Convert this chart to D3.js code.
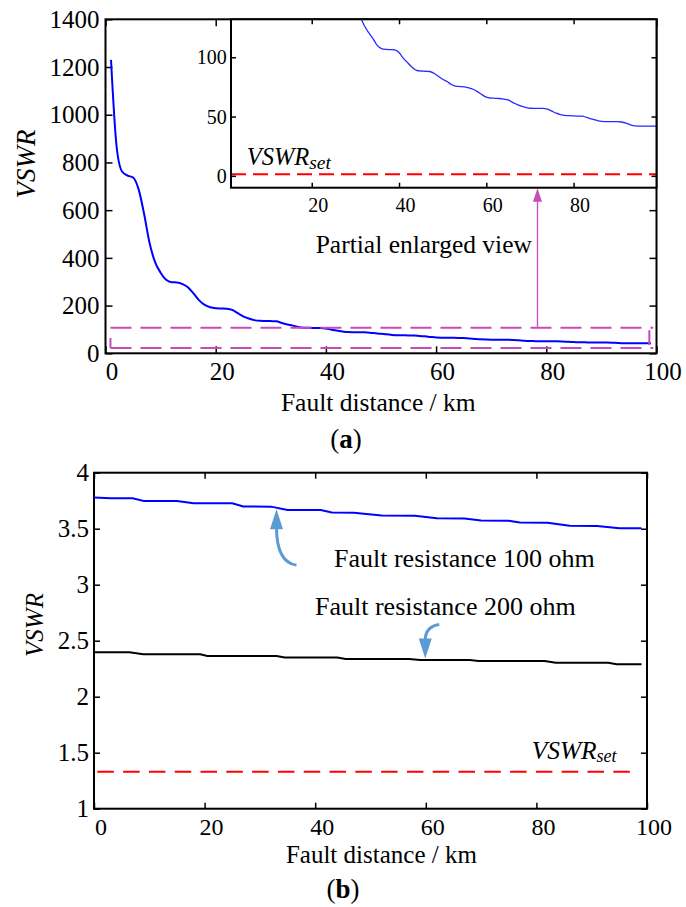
<!DOCTYPE html>
<html><head><meta charset="utf-8">
<script src="https://cdn.jsdelivr.net/npm/d3@7"></script>
<style>
body{margin:0;background:#fff}
svg{display:block}
text{font-family:"Liberation Serif","Times New Roman",Times,serif;fill:#000}
</style>
</head><body>
<svg id="c" width="686" height="907"></svg>
<script>
// ---------- DATA ----------
// Panel (a): VSWR vs fault distance
const distA = [1,2,3,4,5,6,7,8,9,10,11,12,13,14,15,16,17,18,19,20,21,22,23,24,25,26,27,28,29,30,
  31,32,33,34,35,36,37,38,39,40,41,42,43,44,45,46,47,48,49,50,51,52,53,54,55,56,57,58,59,60,
  61,62,63,64,65,66,67,68,69,70,71,72,73,74,75,76,77,78,79,80,81,82,83,84,85,86,87,88,89,90,
  91,92,93,94,95,96,97,98,99];
const vswrA = [1230,870,762,745,737,688,585,462,382,338,308,298,297,290,276,250,222,203,193,189,188,187,182,168,155,146,139,136,135.5,135,
  134,127,121,116,110,107.3,106.6,106.4,106.3,104,99,95.3,91.5,89,88.4,88.2,88,86.5,84,81.5,79.5,77,75.6,75.3,75,74.2,73,71,68.5,66.3,
  65.6,65.4,65.2,64.6,64,62,60.3,58.7,57.7,57,56.9,56.9,56.9,56.2,54.6,52.8,51.7,51,50.7,50.5,50.4,50.3,49.3,48,47.1,46.2,45.8,45.7,45.7,45.7,
  45.4,44.5,43,42.1,42,42,42,42,42];
// Panel (b): fault resistance 100 ohm and 200 ohm
const dist100 = [0,1,3,7,9,15,18,25,27,32,35,41,43,47,52,58,62,67,70,75,77,82,86,91,95,99];
const vswr100 = [3.778,3.776,3.771,3.771,3.748,3.747,3.728,3.727,3.698,3.697,3.668,3.666,3.645,3.643,3.617,3.615,3.594,3.592,3.573,3.571,3.556,3.554,3.526,3.524,3.504,3.503];
const dist200 = [0,6.4,8.9,19.2,20.5,33,34.5,44,45.5,57,59,68,69.5,81.5,83.5,93,94.5,99];
const vswr200 = [2.396,2.396,2.379,2.378,2.364,2.363,2.351,2.350,2.337,2.336,2.328,2.327,2.319,2.318,2.304,2.303,2.289,2.289];
const vswrSet = 1.33;
// Tick labels
const xTicks = [0,20,40,60,80,100];
const yTicksA = [0,200,400,600,800,1000,1200,1400];
const xTicksInset = [20,40,60,80];
const yTicksInset = [0,50,100];
const yTicksB = [1,1.5,2,2.5,3,3.5,4];

// ---------- DRAW ----------
const svg = d3.select('#c');
const BLUE = '#0000ff', RED = '#ff0000', MAG = '#c94ab9', ARW = '#5b9bd5';

function frame(g, x, y, xt, yt, opt) {
  const [x0, x1] = x.range(), [y0, y1] = y.range();
  const L = opt.tick;
  const ax = g.append('g').attr('transform', `translate(0,${y0})`)
    .call(d3.axisBottom(x).tickValues(xt).tickSizeInner(-L).tickSizeOuter(0).tickPadding(0)
      .tickFormat(d3.format('d')));
  ax.selectAll('text').attr('y', opt.xLabY).attr('dy', 0).attr('dx', opt.xLabDx)
    .style('font-size', (opt.xFont || opt.font) + 'px');
  const at = g.append('g').attr('transform', `translate(0,${y1})`)
    .call(d3.axisTop(x).tickValues(xt).tickSizeInner(-L).tickSizeOuter(0).tickFormat(''));
  const ay = g.append('g').attr('transform', `translate(${x0},0)`)
    .call(d3.axisLeft(y).tickValues(yt).tickSizeInner(-L).tickSizeOuter(0).tickPadding(opt.yPad)
      .tickFormat(opt.yFmt));
  ay.selectAll('text').attr('dy', '0.33em').style('font-size', opt.font + 'px');
  const ar = g.append('g').attr('transform', `translate(${x1},0)`)
    .call(d3.axisRight(y).tickValues(yt).tickSizeInner(-L).tickSizeOuter(0).tickFormat(''));
  [ax, at, ay, ar].forEach(a => {
    a.select('.domain').remove();
    a.attr('font-family', null);
    a.selectAll('line').attr('stroke', '#000').attr('stroke-width', 1.5);
    a.selectAll('text').style('font-family', '"Liberation Serif","Times New Roman",serif').attr('fill', '#000');
  });
  g.append('rect').attr('x', x0).attr('y', y1).attr('width', x1 - x0).attr('height', y0 - y1)
    .attr('fill', 'none').attr('stroke', '#000').attr('stroke-width', 2);
}

// ===== Panel (a) =====
const xA = d3.scaleLinear().domain([0,100]).range([105.5,656.5]);
const yA = d3.scaleLinear().domain([0,1400]).range([353.3,19.3]);
const gA = svg.append('g');
frame(gA, xA, yA, xTicks, yTicksA, {tick:7, font:25, xLabY:26.7, xLabDx:6, yPad:6, yFmt:d3.format('d')});

const dataA = distA.map((d,i)=>[d, vswrA[i]]);
gA.append('path').datum(dataA)
  .attr('d', d3.line().x(d=>xA(d[0])).y(d=>yA(d[1])).curve(d3.curveMonotoneX))
  .attr('fill','none').attr('stroke',BLUE).attr('stroke-width',2);

// magenta dashed zoom box
const boxTop = 107, boxBot = 22, boxL = 0.9, boxR = 98.7;
gA.append('line').attr('x1',xA(boxL)).attr('x2',xA(99.4)).attr('y1',yA(boxTop)).attr('y2',yA(boxTop))
  .attr('stroke',MAG).attr('stroke-width',2).attr('stroke-dasharray','21,9');
gA.append('line').attr('x1',xA(boxL)).attr('x2',xA(99.4)).attr('y1',yA(boxBot)).attr('y2',yA(boxBot))
  .attr('stroke',MAG).attr('stroke-width',2).attr('stroke-dasharray','21,9');
gA.append('line').attr('x1',xA(boxL)).attr('x2',xA(boxL)).attr('y1',yA(boxBot)).attr('y2',yA(64))
  .attr('stroke',MAG).attr('stroke-width',2);
gA.append('line').attr('x1',xA(boxR)).attr('x2',xA(boxR)).attr('y1',yA(35)).attr('y2',yA(97))
  .attr('stroke',MAG).attr('stroke-width',2);

// inset
const xI = d3.scaleLinear().domain([1.5,99]).range([231,656.5]);
const yI = d3.scaleLinear().domain([-10,132]).range([187.7,19.3]);
const gI = svg.append('g');
gI.append('rect').attr('x',231).attr('y',19.3).attr('width',656.5-231).attr('height',187.7-19.3).attr('fill','#fff');
svg.append('clipPath').attr('id','clipI').append('rect')
  .attr('x',231).attr('y',19.3).attr('width',656.5-231).attr('height',187.7-19.3);
gI.append('path').datum(dataA.filter(d=>d[0]>=25))
  .attr('clip-path','url(#clipI)')
  .attr('d', d3.line().x(d=>xI(d[0])).y(d=>yI(d[1])).curve(d3.curveMonotoneX))
  .attr('fill','none').attr('stroke','#2a2aff').attr('stroke-width',1.3);
gI.append('line').attr('x1',xI(1.5)).attr('x2',xI(99)).attr('y1',yI(vswrSet)).attr('y2',yI(vswrSet))
  .attr('stroke',RED).attr('stroke-width',2.2).attr('stroke-dasharray','15,7');
frame(gI, xI, yI, xTicksInset, yTicksInset, {tick:5, font:20, xLabY:24.3, xLabDx:6, yPad:4.3, yFmt:d3.format('d')});
const tI = gI.append('text').attr('x',246.7).attr('y',165).style('font-style','italic');
tI.append('tspan').text('VSWR').style('font-size','24.5px');
tI.append('tspan').text('set').attr('dy',3.5).style('font-size','19.5px');

// magenta arrow
const arX = xA(78.4);
gA.append('line').attr('x1',arX).attr('x2',arX).attr('y1',yA(boxTop)).attr('y2',yI(-10)+13)
  .attr('stroke',MAG).attr('stroke-width',1.3);
gA.append('path').attr('d',`M${arX},${yI(-10)+0.5} L${arX-4.5},${yI(-10)+14} L${arX+4.5},${yI(-10)+14} Z`)
  .attr('fill',MAG);
svg.append('text').attr('x',315.7).attr('y',253.3).style('font-size','25.5px').text('Partial enlarged view');

// titles (a)
svg.append('text').attr('transform','translate(35,164) rotate(-90)').attr('text-anchor','middle')
  .style('font-size','27px').style('font-style','italic').text('VSWR');
svg.append('text').attr('x',378.3).attr('y',411).attr('text-anchor','middle')
  .style('font-size','25.5px').text('Fault distance / km');
const la = svg.append('text').attr('x',346).attr('y',447.5).attr('text-anchor','middle').style('font-size','27px');
la.append('tspan').text('(');
la.append('tspan').text('a').style('font-weight','bold');
la.append('tspan').text(')');

// ===== Panel (b) =====
const xB = d3.scaleLinear().domain([0,100]).range([94,647]);
const yB = d3.scaleLinear().domain([1,4]).range([808.7,472.7]);
const gB = svg.append('g');
frame(gB, xB, yB, xTicks, yTicksB, {tick:6, font:25, xFont:24, xLabY:26, xLabDx:6.5, yPad:5, yFmt:d=>String(d)});

const lineB = d3.line().x(d=>xB(d[0])).y(d=>yB(d[1]));
gB.append('path').datum(dist100.map((d,i)=>[d,vswr100[i]])).attr('d',lineB)
  .attr('fill','none').attr('stroke',BLUE).attr('stroke-width',2);
gB.append('path').datum(dist200.map((d,i)=>[d,vswr200[i]])).attr('d',lineB)
  .attr('fill','none').attr('stroke','#000').attr('stroke-width',2);
gB.append('line').attr('x1',xB(0.6)).attr('x2',xB(97.5)).attr('y1',yB(vswrSet)).attr('y2',yB(vswrSet))
  .attr('stroke',RED).attr('stroke-width',2.2).attr('stroke-dasharray','16.5,9.3');

// annotation arrows
const t1x = xB(33), t1y = yB(3.697) + 2.5;
gB.append('path').attr('d',`M${t1x+20},${t1y+56} Q${t1x},${t1y+53} ${t1x},${t1y+18}`)
  .attr('fill','none').attr('stroke',ARW).attr('stroke-width',3);
gB.append('path').attr('d',`M${t1x},${t1y} L${t1x-6.5},${t1y+20} L${t1x+6.5},${t1y+20} Z`).attr('fill',ARW);
const t2x = xB(59.9), t2y = yB(2.328) - 1.5;
gB.append('path').attr('d',`M${t2x+14},${t2y-34} Q${t2x},${t2y-32} ${t2x},${t2y-18}`)
  .attr('fill','none').attr('stroke',ARW).attr('stroke-width',3);
gB.append('path').attr('d',`M${t2x},${t2y} L${t2x-6.5},${t2y-20} L${t2x+6.5},${t2y-20} Z`).attr('fill',ARW);

svg.append('text').attr('x',334).attr('y',567.3).style('font-size','26px').text('Fault resistance 100 ohm');
svg.append('text').attr('x',315).attr('y',615).style('font-size','26px').text('Fault resistance 200 ohm');
const tB = svg.append('text').attr('x',531.7).attr('y',759).style('font-style','italic');
tB.append('tspan').text('VSWR').style('font-size','25.4px');
tB.append('tspan').text('set').attr('dy',3.3).style('font-size','18px');

svg.append('text').attr('transform','translate(43,625) rotate(-90)').attr('text-anchor','middle')
  .style('font-size','25px').style('font-style','italic').text('VSWR');
svg.append('text').attr('x',381.4).attr('y',862.5).attr('text-anchor','middle')
  .style('font-size','25px').text('Fault distance / km');
const lb = svg.append('text').attr('x',343).attr('y',897.5).attr('text-anchor','middle').style('font-size','27px');
lb.append('tspan').text('(');
lb.append('tspan').text('b').style('font-weight','bold');
lb.append('tspan').text(')');
</script>
</body></html>
